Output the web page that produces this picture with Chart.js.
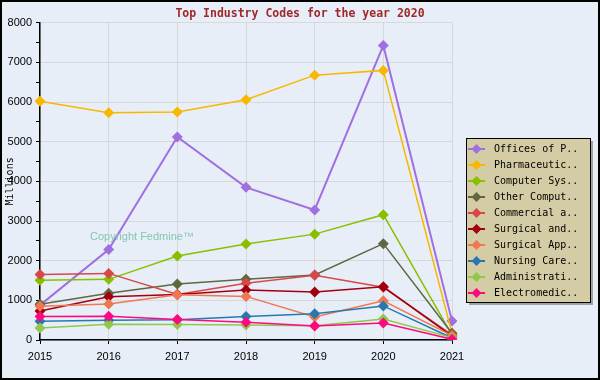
<!DOCTYPE html>
<html><head><meta charset="utf-8">
<script src="https://cdn.jsdelivr.net/npm/chart.js@4.4.0/dist/chart.umd.min.js"></script>
<style>html,body{margin:0;padding:0;background:#e8eef8}canvas{display:block}</style>
</head><body>
<div style="width:600px;height:380px"><canvas id="c" width="600" height="380"></canvas></div>
<script>
const years = ["2015","2016","2017","2018","2019","2020","2021"];
const seriesNames = ["Offices of P..","Pharmaceutic..","Computer Sys..","Other Comput..","Commercial a..","Surgical and..","Surgical App..","Nursing Care..","Administrati..","Electromedic.."];
const officesOfP   = [880, 2280, 5120, 3850, 3280, 7430, 480];
const pharma       = [6020, 5730, 5750, 6060, 6680, 6800, 170];
const computerSys  = [1510, 1530, 2120, 2420, 2670, 3160, 120];
const otherComput  = [900, 1180, 1410, 1530, 1640, 2430, 170];
const commercial   = [1650, 1680, 1150, 1430, 1630, 1330, 130];
const surgicalAnd  = [730, 1090, 1150, 1260, 1210, 1340, 100];
const surgicalApp  = [850, 910, 1140, 1100, 580, 990, 110];
const nursingCare  = [470, 500, 510, 590, 660, 860, 50];
const administrati = [300, 400, 390, 380, 360, 530, 60];
const electromedic = [590, 600, 520, 450, 350, 430, 20];
const seriesValues = [officesOfP, pharma, computerSys, otherComput, commercial, surgicalAnd, surgicalApp, nursingCare, administrati, electromedic];
const colors = ["#a070e0","#f8b800","#88c000","#606840","#d84848","#a00010","#f07850","#2878b0","#90c848","#ff0880"];

const datasets = seriesValues.map((v,i)=>({
  label: seriesNames[i], data: v,
  borderColor: colors[i], backgroundColor: colors[i],
  borderWidth: i===0 ? 2 : 1.5,
  pointStyle: 'rectRot', pointRadius: 5.5, pointHoverRadius: 5.5,
  pointBorderWidth: 0, tension: 0, order: 10 - i
}));

const deco = {
  id: 'deco',
  beforeDraw(chart){
    const ctx = chart.ctx;
    ctx.save();
    ctx.fillStyle = '#e8eef8';
    ctx.fillRect(0,0,600,380);
    ctx.restore();
  },
  afterDatasetsDraw(chart){
    const ctx = chart.ctx;
    ctx.save();
    ctx.fillStyle = '#80c8b0';
    ctx.font = '11px "Liberation Sans"';
    ctx.textBaseline = 'middle';
    ctx.fillText('Copyright Fedmine\u2122', 90, 237);
    ctx.restore();
  },
  afterDraw(chart){
    const ctx = chart.ctx;
    ctx.save();
    const lx = 466, ly = 138, lw = 124, lh = 164;
    ctx.fillStyle = '#a0a0a0';
    ctx.fillRect(lx+3, ly+3, lw, lh);
    ctx.fillStyle = '#d4cca4';
    ctx.fillRect(lx, ly, lw, lh);
    ctx.strokeStyle = '#000';
    ctx.lineWidth = 1;
    ctx.strokeRect(lx+0.5, ly+0.5, lw, lh);
    ctx.font = '10px "DejaVu Sans Mono"';
    ctx.textBaseline = 'middle';
    seriesNames.forEach((n,i)=>{
      const y = 149 + i*16;
      ctx.strokeStyle = colors[i];
      ctx.lineWidth = 2;
      ctx.beginPath(); ctx.moveTo(468,y); ctx.lineTo(485,y); ctx.stroke();
      ctx.fillStyle = colors[i];
      ctx.beginPath(); ctx.moveTo(476.5,y-5); ctx.lineTo(481.5,y); ctx.lineTo(476.5,y+5); ctx.lineTo(471.5,y); ctx.closePath(); ctx.fill();
      ctx.fillStyle = '#000';
      ctx.fillText(n, 494, y);
    });
    ctx.strokeStyle = '#000';
    ctx.lineWidth = 2;
    ctx.strokeRect(1,1,598,378);
    ctx.restore();
  }
};

new Chart(document.getElementById('c'), {
  type: 'line',
  data: { labels: years, datasets },
  plugins: [deco],
  options: {
    responsive: false, animation: false,
    layout: { padding: 0 },
    plugins: {
      legend: { display: false }, tooltip: { enabled: false },
      title: { display: true, text: 'Top Industry Codes for the year 2020', color: '#a02828',
        font: { family: 'DejaVu Sans Mono', size: 11.5, weight: 'bold' }, padding: { top: 7, bottom: 2 } }
    },
    scales: {
      x: {
        type: 'category', offset: false,
        grid: { color: '#d8d8d8', tickColor: '#000', tickLength: 4, drawTicks: true },
        border: { color: '#000', width: 1.5 },
        ticks: { color: '#000', font: { family: 'Liberation Sans', size: 11 }, padding: 6, maxRotation: 0 },
        afterFit(s){ s.height = 40; }
      },
      y: {
        min: 0, max: 8000,
        grid: { color: (c)=> (c.tick && c.tick.value % 1000 === 0) ? '#d8d8d8' : 'rgba(0,0,0,0)', tickColor: '#000', tickLength: 4 },
        border: { color: '#000', width: 1.5 },
        ticks: { stepSize: 500, color: '#000', font: { family: 'Liberation Sans', size: 11 }, padding: 4,
          callback: (v)=> v % 1000 === 0 ? String(v) : '' },
        title: { display: true, text: 'Millions', color: '#000', font: { family: 'DejaVu Sans Mono', size: 10 }, padding: { top: 4, bottom: 0 } },
        afterFit(s){ s.width = 40; }
      },
      spacer: {
        position: 'right', display: true, min: 0, max: 1,
        grid: { drawOnChartArea: false, drawTicks: false },
        border: { display: false },
        ticks: { display: false },
        afterFit(s){ s.width = 148; }
      }
    }
  }
});
</script>
</body></html>
